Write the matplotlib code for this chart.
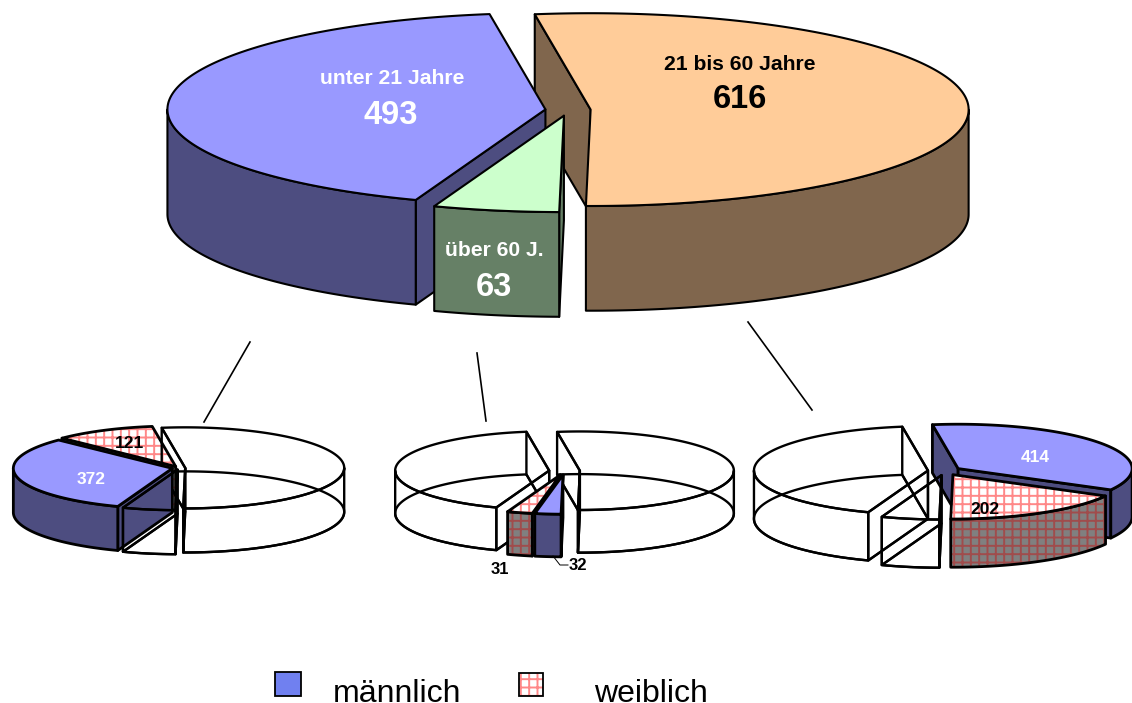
#!/usr/bin/env python3
import numpy as np
import matplotlib
matplotlib.use("Agg")
import matplotlib.pyplot as plt
from matplotlib.patches import Polygon, Rectangle

plt.rcParams["font.family"] = ["Liberation Sans", "DejaVu Sans"]
plt.rcParams["hatch.linewidth"] = 1.4

# values, clockwise from the start angle (all pies share the same total)
main_values = [616, 63, 493]
main_styles = ["orange", "green", "blue"]
left_values = [616, 63, 372, 121]
left_styles = ["none", "none", "blue", "pink"]
mid_values = [616, 32, 31, 493]
mid_styles = ["none", "blue", "pink", "none"]
right_values = [414, 202, 63, 493]
right_styles = ["blue", "pink", "none", "none"]

START = -8.5
TOP = {"orange": "#FFCC99", "green": "#CCFFCC", "blue": "#9999FF", "pink": "white"}
SIDE = {"orange": "#80664D", "green": "#668066", "blue": "#4D4D80", "pink": "#808080"}
HATCH = {"pink": ("#FF8888", "#A04C4C")}


def rim(cx, cy, rx, ry, a0, a1, dz=0.0):
    a = np.radians(np.linspace(a0, a1, max(int(abs(a1 - a0)) * 2, 2)))
    return np.column_stack([cx + rx * np.sin(a), cy - ry * np.cos(a) + dz])


def face(ax, pts, style, lw, top=True):
    if style == "none":
        ax.add_patch(Polygon(pts, closed=True, fc="none", ec="black", lw=lw, joinstyle="round"))
        return
    color = TOP[style] if top else SIDE[style]
    if style in HATCH:
        hc = HATCH[style][0 if top else 1]
        ax.add_patch(Polygon(pts, closed=True, fc=color, ec=hc, lw=0, hatch="++"))
        ax.add_patch(Polygon(pts, closed=True, fc="none", ec="black", lw=lw, joinstyle="round"))
    else:
        ax.add_patch(Polygon(pts, closed=True, fc=color, ec="black", lw=lw, joinstyle="round"))


def draw_pie(ax, cx, cy, rx, values, styles, explode, lw=1.5, solid_lw=1.5, order=None):
    ry = rx * 0.255
    depth = rx * 0.277
    total = float(sum(values))
    edges = START + np.concatenate([[0], np.cumsum(values)]) / total * 360.0
    wedges = list(zip(edges[:-1], edges[1:], styles))
    if order is not None:
        wedges = [wedges[i] for i in order]
    else:
        # back to front
        wedges.sort(key=lambda w: -np.cos(np.radians((w[0] + w[1]) / 2)))
    for a0, a1, style in wedges:
        mid = np.radians((a0 + a1) / 2)
        x0 = cx + explode * rx * np.sin(mid)
        y0 = cy - explode * ry * np.cos(mid)
        apex = np.array([[x0, y0]])
        base = np.array([[x0, y0 + depth]])
        w = lw if style == "none" else solid_lw

        if style == "none":
            # see-through wedge, the whole wireframe shows
            face(ax, np.vstack([base, rim(x0, y0, rx, ry, a0, a1, depth)]), style, w)

        # radial walls, only the ones facing the viewer on solid wedges
        for ang, normal in ((a0, a0 - 90), (a1, a1 + 90)):
            if style == "none" or np.cos(np.radians(normal)) < 0:
                p = rim(x0, y0, rx, ry, ang, ang)[:1]
                q = p + [0, depth]
                face(ax, np.vstack([apex, p, q, base]), style, w, top=False)

        # outer wall on the front half
        lo = max(a0, 90.0)
        hi = min(a1, 270.0)
        if hi > lo:
            upper = rim(x0, y0, rx, ry, lo, hi)
            lower = rim(x0, y0, rx, ry, hi, lo, depth)
            face(ax, np.vstack([upper, lower]), style, w, top=False)

        face(ax, np.vstack([apex, rim(x0, y0, rx, ry, a0, a1)]), style, w, top=True)


fig = plt.figure(figsize=(11.32, 7.03), dpi=100)
ax = fig.add_axes([0, 0, 1, 1])
ax.set_xlim(0, 1132)
ax.set_ylim(703, 0)
ax.axis("off")

# blue has to lie over the brown wall here
draw_pie(ax, 568, 110, 378, main_values, main_styles, 0.06, order=[0, 2, 1])
draw_pie(ax, 178.7, 468, 159, left_values, left_styles, 0.041, lw=1.7, solid_lw=2.0)
draw_pie(ax, 564.5, 471, 154, mid_values, mid_styles, 0.10, lw=1.7, solid_lw=2.0)
draw_pie(ax, 944.5, 471, 174, right_values, right_styles, 0.0955, lw=1.7, solid_lw=2.0)

# connectors
for xs, ys in (([250, 204], [342, 422]), ([477, 486], [353, 421]), ([748, 812], [322, 410])):
    ax.plot(xs, ys, color="black", lw=1.2)
ax.plot([553, 560, 568], [556, 565, 565], color="black", lw=0.7)


def label(x, y, s, size, color="black", weight="bold"):
    ax.text(x, y, s, fontsize=size, color=color, fontweight=weight, ha="center", va="center")


label(392, 79, "unter 21 Jahre", 15.2, "white")
label(391, 115, "493", 23.5, "white")
label(740, 64, "21 bis 60 Jahre", 15.2)
label(740, 100, "616", 23.5)
label(494, 251, "über 60 J.", 15.2, "white")
label(494, 287, "63", 23.5, "white")
label(130, 443, "121", 12.5)
label(91, 479, "372", 12.5, "white")
label(1035, 458, "414", 12.5, "white")
label(985, 510, "202", 12.5)
label(500, 569, "31", 12)
label(578, 566, "32", 12)

# legend
ax.add_patch(Rectangle((275, 672), 26, 24, fc="#7080F0", ec="black", lw=1.3))
ax.add_patch(Rectangle((519, 673), 24, 23, fc="white", ec="#FF8888", lw=0, hatch="++"))
ax.add_patch(Rectangle((519, 673), 24, 23, fc="none", ec="black", lw=1.3))
ax.text(333, 702, "männlich", fontsize=23, ha="left", va="baseline")
ax.text(594, 702, "weiblich", fontsize=23, ha="left", va="baseline")

fig.savefig("out.png", dpi=100)
